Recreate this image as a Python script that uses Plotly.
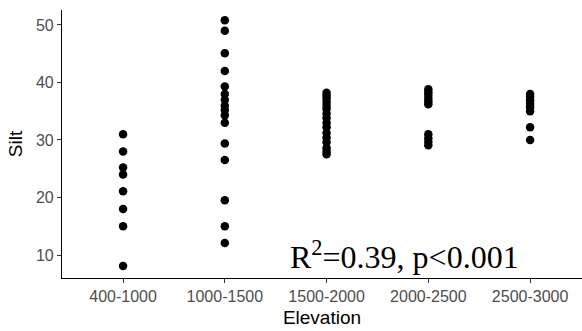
import plotly.graph_objects as go

# Elevation bands (x categories)
elevation_bands = ["400-1000", "1000-1500", "1500-2000", "2000-2500", "2500-3000"]

# Silt content per band
silt_400_1000 = [31.0, 28.0, 25.2, 24.0, 21.1, 18.0, 15.0, 8.1]
silt_1000_1500 = [50.8, 49.0, 45.1, 42.0, 39.3, 38.0, 37.0, 36.0, 35.2, 34.3,
                  33.0, 29.4, 26.5, 19.5, 15.0, 12.1]
silt_1500_2000 = [38.2, 37.7, 37.2, 36.6, 36.0, 35.4, 34.6, 33.8, 33.0, 32.2,
                  31.2, 30.4, 29.6, 28.6, 28.0, 27.5]
silt_2000_2500 = [38.8, 38.3, 37.8, 37.2, 36.7, 36.2, 31.0, 30.3, 29.7, 29.1]
silt_2500_3000 = [38.0, 37.5, 36.9, 36.3, 35.7, 35.0, 32.2, 30.0]

groups = [silt_400_1000, silt_1000_1500, silt_1500_2000, silt_2000_2500, silt_2500_3000]

xs, ys = [], []
for band, vals in zip(elevation_bands, groups):
    xs += [band] * len(vals)
    ys += vals

fig = go.Figure(
    go.Scatter(
        x=xs, y=ys, mode="markers",
        marker=dict(color="black", size=8.5, line=dict(width=0)),
        showlegend=False,
    )
)

fig.add_annotation(
    x=2.77, y=10.0, xref="x", yref="y",
    text="R<sup>2</sup>=0.39, p&lt;0.001",
    showarrow=False, xanchor="center", yanchor="middle",
    font=dict(family="Liberation Serif, Times New Roman, serif", size=32, color="black"),
)

axis_common = dict(
    showline=True, linecolor="black", linewidth=1.2,
    ticks="outside", ticklen=4, tickcolor="#333333", tickwidth=1.1,
    showgrid=False, zeroline=False,
    tickfont=dict(family="Liberation Sans, Arial, sans-serif", size=16, color="#4d4d4d"),
    title_font=dict(family="Liberation Sans, Arial, sans-serif", size=19, color="black"),
)

fig.update_layout(
    width=582, height=331,
    margin=dict(l=62, r=0, t=10, b=53),
    paper_bgcolor="white", plot_bgcolor="white",
    xaxis=dict(
        type="category", categoryorder="array", categoryarray=elevation_bands,
        range=[-0.6, 4.51], title=dict(text="Elevation", standoff=6),
        **axis_common,
    ),
    yaxis=dict(
        range=[6.0, 52.6], tickvals=[10, 20, 30, 40, 50],
        title=dict(text="Silt", standoff=8),
        **axis_common,
    ),
)

fig.write_html("out.html")
